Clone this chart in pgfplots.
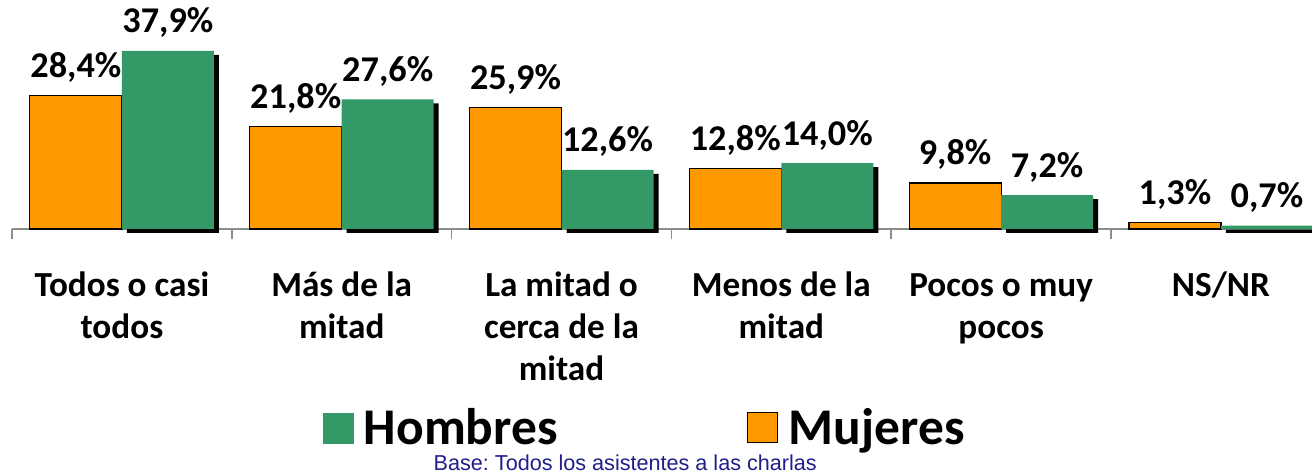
\documentclass[border=0pt]{standalone}
\usepackage{fontspec}
\setmainfont{Carlito}
\newfontfamily\arialfont{Liberation Sans}
\usepackage{pgfplots}
\usepackage{pgfplotstable}
\pgfplotsset{compat=1.18}
\definecolor{myorange}{HTML}{FF9900}
\definecolor{mygreen}{HTML}{339966}
\definecolor{navy}{HTML}{1F1F8C}
\definecolor{axgray}{HTML}{8C8C8C}
\setlength{\tabcolsep}{0pt}
\newcommand{\lab}[1]{\begin{tabular}[t]{c}#1\end{tabular}}

\pgfplotstableread{
x muj hom
0 28.4 37.9
1 21.8 27.6
2 25.9 12.6
3 12.8 14.0
4 9.8 7.2
5 1.3 0.7
}\data

\begin{document}
\begin{tikzpicture}
\begin{axis}[
 at={(9pt,183pt)}, anchor=south west,
 scale only axis, width=989.1pt, height=141pt,
 xmin=-0.5, xmax=5.5, ymin=0, ymax=40,
 clip=false,
 axis x line*=bottom, axis y line=none,
 axis line style={axgray, line width=1.3pt, -},
 xtick={0,...,5},
 xticklabels={{\lab{Todos o casi\\todos}},{\lab{Más de la\\mitad}},{\lab{La mitad o\\cerca de la\\mitad}},{\lab{Menos de la\\mitad}},{\lab{Pocos o muy\\pocos}},{\lab{NS/NR}}},
 xticklabel style={font=\bfseries\fontsize{26.4}{31.5}\selectfont, anchor=base, inner sep=0pt, yshift=-50.5pt},
 major tick length=0pt,
 minor xtick={-0.5,0.5,...,5.5},
 minor tick length=7.5pt,
 tick align=outside,
 minor tick style={axgray, line width=1.2pt},
 ytick=\empty,
 ybar, bar width=0.4186,
 /pgf/number format/assume math mode=true,
 legend style={at={(0.48,-1.058)}, anchor=center, draw=none, fill=none, legend columns=2,
   font=\bfseries\fontsize{38.6}{44}\selectfont,
   /tikz/every odd column/.append style={column sep=6pt},
   /tikz/every even column/.append style={column sep=140pt}},
 legend cell align=left,
]
% shadow of green bars
\addplot[fill=black, draw=none, bar shift=0.2093, xshift=3.75pt, yshift=-3pt, forget plot] table[x=x,y=hom]{\data};
\addplot[fill=myorange, draw=black, line width=0.9pt, bar shift=-0.2093, forget plot,
  nodes near coords={\pgfmathprintnumber[fixed,fixed zerofill,precision=1,use comma]{\pgfplotspointmeta}\%},
  every node near coord/.append style={anchor=base, yshift=13.5pt, font=\bfseries\fontsize{27.2}{30}\selectfont, text=black}]
  table[x=x,y=muj]{\data};
\addplot[fill=mygreen, draw=none, bar shift=0.2093, forget plot,
  nodes near coords={\pgfmathprintnumber[fixed,fixed zerofill,precision=1,use comma]{\pgfplotspointmeta}\%},
  every node near coord/.append style={anchor=base, yshift=13.5pt, font=\bfseries\fontsize{27.2}{30}\selectfont, text=black}]
  table[x=x,y=hom]{\data};
\addlegendimage{legend image code/.code={\fill[mygreen] (0pt,-11.25pt) rectangle (22.5pt,11.25pt);}}
\addlegendentry{Hombres}
\addlegendimage{legend image code/.code={\filldraw[fill=myorange, draw=black, line width=0.9pt] (0pt,-11.25pt) rectangle (22.5pt,11.25pt);}}
\addlegendentry{Mujeres}
\node[font=\arialfont\frenchspacing\fontsize{16.2}{19}\selectfont, text=navy] at (axis description cs:0.465,-1.245) {Base: Todos los asistentes a las charlas};
\end{axis}
\pgfresetboundingbox
\path[use as bounding box] (0,0) rectangle (984pt,354.75pt);
\end{tikzpicture}
\end{document}
